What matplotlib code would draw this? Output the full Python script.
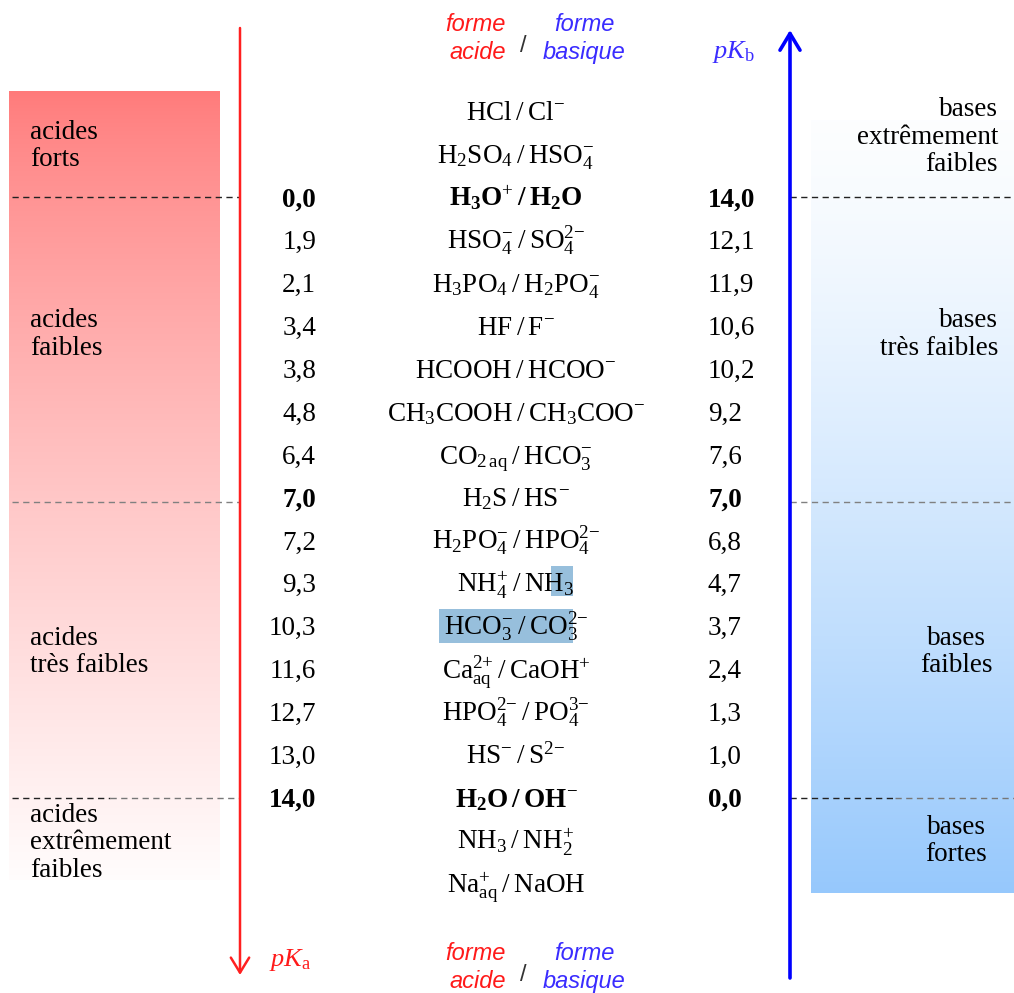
import re
import numpy as np
import matplotlib.pyplot as plt
from matplotlib.patches import Rectangle

plt.rcParams['mathtext.fontset'] = 'custom'
plt.rcParams['mathtext.rm'] = 'Liberation Serif'
plt.rcParams['mathtext.it'] = 'Liberation Serif:italic'
plt.rcParams['mathtext.bf'] = 'Liberation Serif:bold'

# couples acide / base, du plus fort au plus faible
couples = [r'HCl/Cl^-', r'H_2SO_4/HSO_4^-', r'H_3O^+/H_2O',
           r'HSO_4^-/SO_4^{2-}', r'H_3PO_4/H_2PO_4^-', r'HF/F^-',
           r'HCOOH/HCOO^-', r'CH_3COOH/CH_3COO^-',
           r'CO_{2\,aq}/HCO_3^-', r'H_2S/HS^-',
           r'H_2PO_4^-/HPO_4^{2-}', r'NH_4^+/NH_3',
           r'HCO_3^-/CO_3^{2-}', r'Ca_{aq}^{2+}/CaOH^+',
           r'HPO_4^{2-}/PO_4^{3-}', r'HS^-/S^{2-}', r'H_2O/OH^-',
           r'NH_3/NH_2^+', r'Na_{aq}^+/NaOH']
pka = [None, None, 0.0, 1.9, 2.1, 3.4, 3.8, 4.8, 6.4, 7.0, 7.2, 9.3, 10.3,
       11.6, 12.7, 13.0, 14.0, None, None]
pkb = [None, None, 14.0, 12.1, 11.9, 10.6, 10.2, 9.2, 7.6, 7.0, 6.8, 4.7, 3.7,
       2.4, 1.3, 1.0, 0.0, None, None]
bold_couples = [2, 16]
bold_values = [2, 9, 16]
limit_rows = [2, 9, 16]

acid_zones = ['acides\nforts', 'acides\nfaibles', 'acides\ntrès faibles',
              'acides\nextrêmement\nfaibles']
acid_zone_pos = [0.8, 5.2, 12.6, 17.05]
base_zones = ['bases\nextrêmement\nfaibles', 'bases\ntrès faibles',
              'bases\nfaibles', 'bases\nfortes']
base_zone_pos = [0.6, 5.2, 12.6, 17.0]

RED = '#ff1a1a'
BLUE = '#3a2cff'
SERIF = 'Liberation Serif'
FS = 19.5

ROW0, STEP = 120.5, 42.9


def base_y(i):
    return ROW0 + STEP * i


def mid_y(i):
    return base_y(i) - 9


def fmt(v):
    return f'{v:.1f}'.replace('.', ',')


def chem(s):
    # charges as plain text so mathtext does not space the signs
    s = re.sub(r'\^\{?([0-9]?[+-])\}?',
               lambda m: r'^{\text{' + m.group(1).replace('-', '−') + '}}',
               s)
    return s.replace('/', r'\:/\:')


fig = plt.figure(figsize=(10.14, 9.93), dpi=100)
ax = fig.add_axes([0, 0, 1, 1])

# gradient boxes
n = 256
t = np.linspace(0, 1, n)[:, None]
w = t ** 0.8
left = np.dstack([np.ones_like(w), 0.48 + 0.51 * w, 0.48 + 0.51 * w])
ax.imshow(left, extent=(9, 220, 880, 91), aspect='auto', zorder=0,
          interpolation='bilinear')
b = t ** 1.3
right = np.dstack([0.99 - 0.40 * b, 0.995 - 0.21 * b, 1.0 - 0.01 * b])
ax.imshow(right, extent=(811, 1014, 893, 120), aspect='auto', zorder=0,
          interpolation='bilinear')

# dashed separators
for k, r in enumerate(limit_rows):
    y = mid_y(r) + (4 if r == 9 else 0)
    if k == 0:
        segs = [(12, 240, '#222222'), (790, 1014, '#222222')]
    elif k == 1:
        segs = [(12, 240, '#808080'), (790, 1014, '#808080')]
    else:
        segs = [(12, 110, '#222222'), (110, 240, '#777777'),
                (790, 895, '#222222'), (895, 1014, '#777777')]
    for x0, x1, c in segs:
        ax.plot([x0, x1], [y, y], color=c, lw=1.0, dashes=(4.5, 3.2),
                zorder=1)

# selection highlights
ax.add_patch(Rectangle((551, base_y(11) - 26), 22, 30, color='#97bfdc',
                       lw=0, zorder=1))
ax.add_patch(Rectangle((439, base_y(12) - 26), 134, 34, color='#97bfdc',
                       lw=0, zorder=1))

# arrows
ax.annotate('', xy=(240, 975), xytext=(240, 28),
            arrowprops=dict(arrowstyle='->,head_length=0.9,head_width=0.55',
                            color='#ff2020', lw=1.8, mutation_scale=12,
                            shrinkA=0, shrinkB=0))
ax.annotate('', xy=(790, 30), xytext=(790, 978),
            arrowprops=dict(arrowstyle='->,head_length=1.0,head_width=0.6',
                            color='#0000ff', lw=2.6, mutation_scale=12,
                            shrinkA=0, shrinkB=0))

# table rows
for i, c in enumerate(couples):
    y = base_y(i)
    if i in bold_couples:
        s = r'$\mathbf{' + chem(c) + '}$'
    else:
        s = r'$\mathrm{' + chem(c) + '}$'
    ax.text(516, y, s, fontsize=FS, ha='center', va='baseline', zorder=3)
    fw = 'bold' if i in bold_values else 'normal'
    if pka[i] is not None:
        ax.text(316, y, fmt(pka[i]), fontsize=FS, family=SERIF,
                fontweight=fw, ha='right', va='baseline')
    if pkb[i] is not None:
        ax.text(708, y, fmt(pkb[i]), fontsize=FS, family=SERIF,
                fontweight=fw, ha='left', va='baseline')

# zone labels
for s, p in zip(acid_zones, acid_zone_pos):
    ax.text(30, mid_y(p), s, fontsize=FS, family=SERIF, ha='left',
            va='center', linespacing=1.12)
for k, (s, p) in enumerate(zip(base_zones, base_zone_pos)):
    if k < 2:
        ax.text(998, mid_y(p), s, fontsize=FS, family=SERIF, ha='right',
                va='center', multialignment='right', linespacing=1.12)
    else:
        ax.text(956, mid_y(p), s, fontsize=FS, family=SERIF, ha='center',
                va='center', multialignment='center', linespacing=1.12)

# headers (top and bottom)
for y0 in (31, 960):
    ax.text(506, y0, 'forme', fontsize=17, family='Liberation Sans',
            style='italic', color=RED, ha='right', va='baseline')
    ax.text(506, y0 + 28, 'acide', fontsize=17, family='Liberation Sans',
            style='italic', color=RED, ha='right', va='baseline')
    ax.text(584, y0, 'forme', fontsize=17, family='Liberation Sans',
            style='italic', color=BLUE, ha='center', va='baseline')
    ax.text(584, y0 + 28, 'basique', fontsize=17, family='Liberation Sans',
            style='italic', color=BLUE, ha='center', va='baseline')
    ax.text(523, y0 + 21, '/', fontsize=17, family='Liberation Sans',
            color='#333333', ha='center', va='baseline')

ax.text(712, 58, r'$pK_{\mathrm{b}}$', fontsize=19, color=BLUE, ha='left',
        va='baseline')
ax.text(269, 966, r'$pK_{\mathrm{a}}$', fontsize=19, color=RED, ha='left',
        va='baseline')

ax.set_xlim(0, 1014)
ax.set_ylim(993, 0)
ax.axis('off')
fig.savefig('out.png', dpi=100)
